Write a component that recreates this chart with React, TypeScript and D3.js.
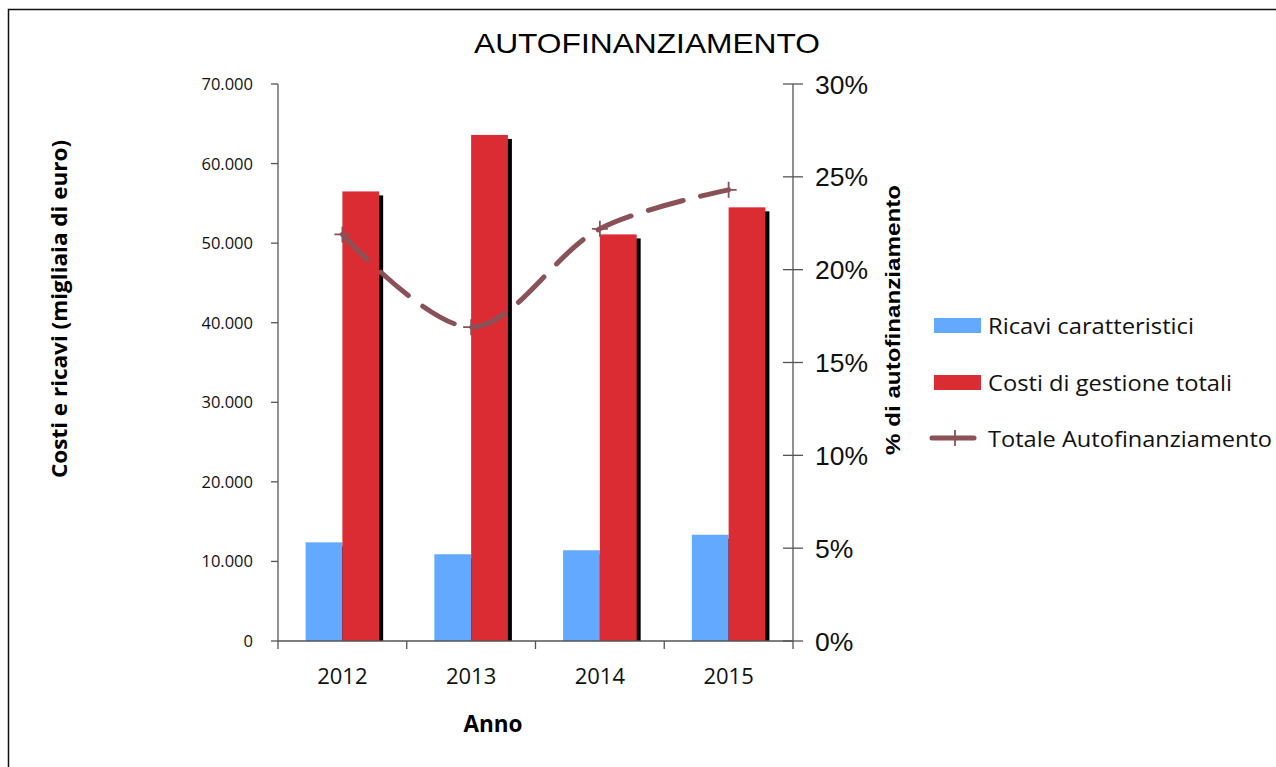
import React from "react";
import * as d3 from "d3";

const years = ["2012", "2013", "2014", "2015"];
const ricavi = [12400, 10900, 11400, 13350];
const costi = [56500, 63600, 51100, 54500];
const autofin = [0.219, 0.169, 0.222, 0.243];
const leftTicks = [0, 10000, 20000, 30000, 40000, 50000, 60000, 70000];
const rightTicks = [0, 0.05, 0.1, 0.15, 0.2, 0.25, 0.3];
const seriesNames = ["Ricavi caratteristici", "Costi di gestione totali", "Totale Autofinanziamento"];

const W = 1276;
const H = 767;
const X0 = 278;
const X1 = 793;
const Y0 = 641;
const Y1 = 84;

const BLUE = "#63A9FF";
const RED = "#DC2C33";
const LINE = "#8A5156";
const AXIS = "#555";

export default function App() {
  const x = d3.scaleBand<string>().domain(years).range([X0, X1]).paddingInner(0).paddingOuter(0);
  const sub = d3.scaleBand<string>().domain(["r", "c"]).range([0, x.bandwidth()]).paddingInner(0).paddingOuter(0.75);
  const yL = d3.scaleLinear().domain([0, 70000]).range([Y0, Y1]);
  const yR = d3.scaleLinear().domain([0, 0.3]).range([Y0, Y1]);
  const fmt = (v: number) => (v === 0 ? "0" : d3.format(",")(v).replace(/,/g, "."));
  const pts: [number, number][] = years.map((yr, i) => [x(yr)! + x.bandwidth() / 2, yR(autofin[i])]);
  const line = d3.line().curve(d3.curveCatmullRom.alpha(0.5))(pts) || "";
  const bw = sub.bandwidth();

  const series = [
    { key: "r", vals: ricavi, color: BLUE },
    { key: "c", vals: costi, color: RED },
  ];

  const plus = (cx: number, cy: number, s: number, k: string) => (
    <path key={k} d={`M${cx - s},${cy}H${cx + s}M${cx},${cy - s}V${cy + s}`} stroke={LINE} strokeWidth={1.8} fill="none" />
  );

  const legendW = [206, 244, 284];

  return (
    <svg width={W} height={H} style={{ position: "absolute", left: 0, top: 0, background: "#fff" }}>
      <path d={`M8.5,${H}V9.5H${W}`} stroke="#111" strokeWidth={1.5} fill="none" />
      <text x={647} y={53} textAnchor="middle" fontFamily="Liberation Sans, Arial, sans-serif" fontSize={28.5} textLength={346} lengthAdjust="spacingAndGlyphs" fill="#000">
        AUTOFINANZIAMENTO
      </text>

      {/* bars */}
      {series.map((s) => (
        <g key={s.key}>
          {years.map((yr, i) => {
            const bx = x(yr)! + sub(s.key)!;
            const by = yL(s.vals[i]);
            return (
              <g key={yr}>
                <rect x={bx + 4} y={by + 4} width={bw} height={Y0 - by - 4} fill="#000" />
                <rect x={bx} y={by} width={bw} height={Y0 - by} fill={s.color} />
              </g>
            );
          })}
        </g>
      ))}

      {/* left axis */}
      <line x1={X0} x2={X0} y1={Y1} y2={Y0} stroke={AXIS} strokeWidth={1.3} />
      {leftTicks.map((t) => (
        <g key={t}>
          <line x1={X0 - 7} x2={X0} y1={yL(t)} y2={yL(t)} stroke={AXIS} strokeWidth={1.3} />
          <text x={253} y={yL(t) + 6} textAnchor="end" fontFamily="Open Sans, sans-serif" fontSize={16.5} fill="#111">
            {fmt(t)}
          </text>
        </g>
      ))}

      {/* right axis */}
      <line x1={X1} x2={X1} y1={Y1} y2={Y0} stroke={AXIS} strokeWidth={1.3} />
      {rightTicks.map((t) => (
        <g key={t}>
          <line x1={X1 - 10} x2={X1 + 10} y1={yR(t)} y2={yR(t)} stroke={AXIS} strokeWidth={1.3} />
          <text x={815} y={yR(t) + 9.5} fontFamily="Liberation Sans, Arial, sans-serif" fontSize={26.5} fill="#111">
            {d3.format(".0%")(t)}
          </text>
        </g>
      ))}

      {/* bottom axis */}
      <line x1={X0} x2={X1} y1={Y0} y2={Y0} stroke={AXIS} strokeWidth={1.3} />
      {[...years.map((yr) => x(yr)!), X1].map((tx, i) => (
        <line key={i} x1={tx} x2={tx} y1={Y0} y2={Y0 + 8} stroke={AXIS} strokeWidth={1.3} />
      ))}
      {years.map((yr) => (
        <text key={yr} x={x(yr)! + x.bandwidth() / 2} y={684} textAnchor="middle" fontFamily="Open Sans, sans-serif" fontSize={22} fill="#111">
          {yr}
        </text>
      ))}

      {/* line series */}
      <path d={line} stroke={LINE} strokeWidth={5} fill="none" strokeDasharray="36 18" strokeLinecap="round" />
      {pts.map((p, i) => plus(p[0], p[1], 8, "m" + i))}

      {/* axis titles */}
      <text x={493} y={732} textAnchor="middle" fontFamily="Open Sans, sans-serif" fontWeight="bold" fontSize={22.5} fill="#000">
        Anno
      </text>
      <text transform="translate(67,309) rotate(-90)" textAnchor="middle" fontFamily="Open Sans, sans-serif" fontWeight="bold" fontSize={21} textLength={338} lengthAdjust="spacingAndGlyphs" fill="#000">
        Costi e ricavi (migliaia di euro)
      </text>
      <text transform="translate(900,320) rotate(-90)" textAnchor="middle" fontFamily="Liberation Sans, Arial, sans-serif" fontWeight="bold" fontSize={21} textLength={270} lengthAdjust="spacingAndGlyphs" fill="#000">
        % di autofinanziamento
      </text>

      {/* legend */}
      <rect x={934} y={318} width={47} height={15} fill={BLUE} />
      <text x={988} y={334} fontFamily="Open Sans, sans-serif" fontSize={21.5} textLength={legendW[0]} lengthAdjust="spacingAndGlyphs" fill="#111">{seriesNames[0]}</text>
      <rect x={934} y={375} width={47} height={15} fill={RED} />
      <text x={988} y={391} fontFamily="Open Sans, sans-serif" fontSize={21.5} textLength={legendW[1]} lengthAdjust="spacingAndGlyphs" fill="#111">{seriesNames[1]}</text>
      <line x1={932} x2={974} y1={438} y2={438} stroke={LINE} strokeWidth={5} strokeLinecap="round" />
      {plus(955, 438, 8, "leg")}
      <text x={988} y={447} fontFamily="Open Sans, sans-serif" fontSize={21.5} textLength={legendW[2]} lengthAdjust="spacingAndGlyphs" fill="#111">{seriesNames[2]}</text>
    </svg>
  );
}
